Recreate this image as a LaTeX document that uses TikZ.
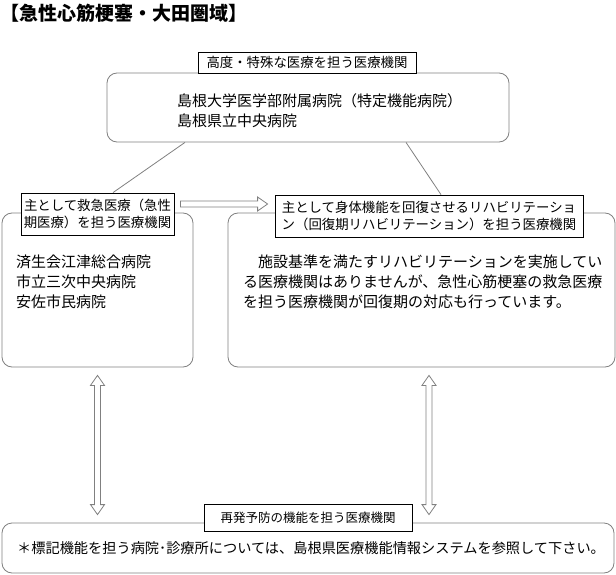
\documentclass[tikz,border=0pt]{standalone}
\usepackage{fontspec}
\setmainfont{Noto Sans CJK JP}
\usetikzlibrary{positioning}
\usetikzlibrary{calc}
\tikzstyle{area} = [rectangle, rounded corners=10pt, draw=gray, line width=0.8pt, inner sep=0]
\tikzstyle{funcLabel} = [rectangle, draw, fill=white, line width=0.8pt, align=center, inner sep=0, font=\fontsize{13.4}{17}\selectfont]
\tikzstyle{bodyText} = [align=left, inner sep=0, anchor=west, font=\fontsize{15}{20}\selectfont]
\tikzstyle{link} = [draw=gray, line width=0.8pt]
\tikzstyle{hollowArrow} = [draw=gray, fill=white, line width=0.8pt, line join=miter]

\begin{document}
\begin{tikzpicture}[x=1pt, y=-1pt]
    \useasboundingbox (0,0) rectangle (616,575);
    \node (title) at (0,13) [anchor=west, inner sep=0, font=\bfseries\fontsize{19}{19}\selectfont] {【急性心筋梗塞・大田圏域】};

    % areas
    \node (topBox) at (308,107.5) [area, minimum width=402, minimum height=69] {};
    \node (emBox) at (97.5,290) [area, minimum width=191, minimum height=154] {};
    \node (rhBox) at (421.5,290) [area, minimum width=387, minimum height=154] {};
    \node (prevBox) at (308,548) [area, minimum width=612, minimum height=50] {};

    \node (topText) at (177,111) [bodyText] {島根大学医学部附属病院（特定機能病院）\\島根県立中央病院};
    \node (emText) at (16,282) [bodyText] {済生会江津総合病院\\市立三次中央病院\\安佐市民病院};
    \node (rhText) at (243,282) [bodyText] {　施設基準を満たすリハビリテーションを実施してい\\る医療機関はありませんが、急性心筋梗塞の救急医療\\を担う医療機関が回復期の対応も行っています。};
    \node (prevText) at (17,548) [bodyText, font=\fontsize{14.2}{20}\selectfont] {＊標記機能を担う病院･診療所については、島根県医療機能情報システムを参照して下さい。};

    % labels
    \node (emLabel) at (97.5,214) [funcLabel, minimum width=153, minimum height=42] {主として救急医療（急性\\期医療）を担う医療機関};
    \node (rhLabel) at (429,216) [funcLabel, minimum width=308, minimum height=42] {主として身体機能を回復させるリハビリテーショ\\ン（回復期リハビリテーション）を担う医療機関};
    \node (topLabel) at (307,62.5) [funcLabel, minimum width=218, minimum height=21] {高度・特殊な医療を担う医療機関};
    \node (prevLabel) at (308,517.5) [funcLabel, minimum width=208, minimum height=27, font=\fontsize{12.5}{15}\selectfont] {再発予防の機能を担う医療機関};

    \draw [link] ($(topBox.south)+(-123,0)$) -- ($(emLabel.north)+(15.5,0)$);
    \draw [link] ($(topBox.south)+(98,0)$) -- ($(rhLabel.north)+(12,0)$);

    % arrows
    \coordinate (haStart) at ($(emLabel.east)+(6,-10)$);
    \coordinate (haTip) at ($(rhLabel.west)+(-7,-12)$);
    \draw [hollowArrow] ($(haStart)+(0,-3)$) -- ($(haTip)+(-10,-3)$) -- ++(0,-4) -- (haTip) -- ++(-10,7) -- ++(0,-4) -- ($(haStart)+(0,3)$) -- cycle;

    \coordinate (emTop) at ($(emBox.south)+(0,8)$);
    \coordinate (emBot) at ($(emBox.south |- prevBox.north)+(0,-8)$);
    \draw [hollowArrow] (emTop) -- ++(7,10) -- ++(-4,0) -- ($(emBot)+(3,-10)$) -- ++(4,0) -- (emBot) -- ++(-7,-10) -- ++(4,0) -- ($(emTop)+(-3,10)$) -- ++(-4,0) -- cycle;

    \coordinate (rhTop) at ($(rhBox.south -| rhLabel.south)+(0,8)$);
    \coordinate (rhBot) at ($(prevBox.north -| rhLabel.south)+(0,-8)$);
    \draw [hollowArrow] (rhTop) -- ++(7,10) -- ++(-4,0) -- ($(rhBot)+(3,-10)$) -- ++(4,0) -- (rhBot) -- ++(-7,-10) -- ++(4,0) -- ($(rhTop)+(-3,10)$) -- ++(-4,0) -- cycle;
\end{tikzpicture}
\end{document}
